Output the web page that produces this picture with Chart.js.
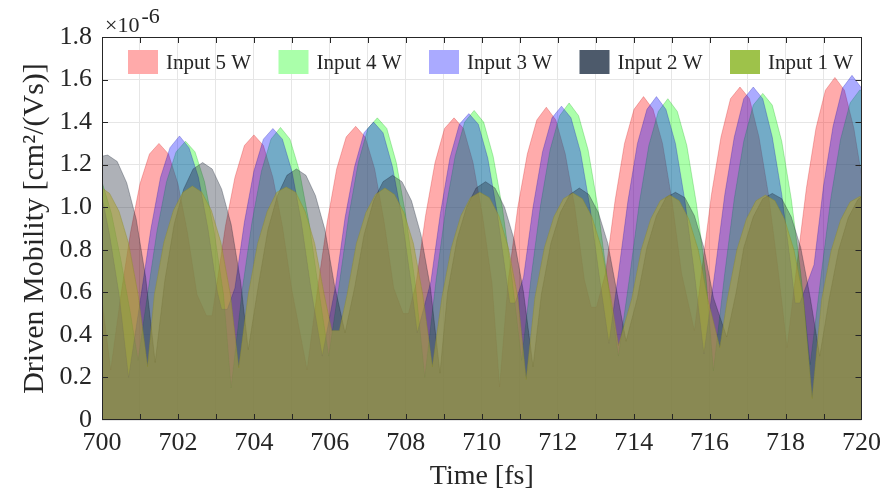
<!DOCTYPE html>
<html>
<head>
<meta charset="utf-8">
<script src="https://cdn.jsdelivr.net/npm/chart.js@4.4.1/dist/chart.umd.min.js"></script>
<style>
  html, body { margin: 0; padding: 0; background: #ffffff; }
  #wrap { width: 889px; height: 494px; }
</style>
</head>
<body>
<div id="wrap"><canvas id="c" width="889" height="494"></canvas></div>
<script>
// ---------- data (time [fs], mobility [x1e-6 cm^2/(Vs)]) ----------
const seriesNames = ['Input 5 W', 'Input 4 W', 'Input 3 W', 'Input 2 W', 'Input 1 W'];
const xRange = [700, 720];
const yRange = [0, 1.8];
const xTickStep = 1;
const yTickStep = 0.2;
const exponentText = ['\u00d710', '-6'];
const xTitle = 'Time [fs]';
const yTitle = 'Driven Mobility [cm\u00b2/(Vs)]';

const s5W = [[700.0,0.56],[700.23,0.235],[700.5,0.59],[700.75,0.88],[701.0,1.11],[701.25,1.25],[701.5,1.30],[701.75,1.25],[702.0,1.11],[702.25,0.88],[702.5,0.59],[702.75,0.49],[702.9,0.49],
 [703.0,0.61],[703.25,0.91],[703.5,1.14],[703.75,1.29],[704.0,1.34],[704.25,1.29],[704.5,1.14],[704.75,0.91],[705.0,0.61],[705.4,0.235],
 [705.68,0.62],[705.93,0.93],[706.18,1.18],[706.43,1.33],[706.68,1.38],[706.93,1.33],[707.18,1.18],[707.43,0.93],[707.68,0.62],[707.93,0.50],[708.07,0.50],
 [708.27,0.64],[708.52,0.96],[708.77,1.21],[709.02,1.37],[709.27,1.42],[709.52,1.37],[709.77,1.21],[710.02,0.96],[710.27,0.64],[710.47,0.155],
 [710.7,0.66],[710.95,1.00],[711.2,1.25],[711.45,1.41],[711.7,1.47],[711.95,1.41],[712.2,1.25],[712.45,1.00],[712.7,0.66],[712.88,0.53],[713.02,0.53],
 [713.26,0.69],[713.51,1.03],[713.76,1.30],[714.01,1.46],[714.26,1.52],[714.51,1.46],[714.76,1.30],[715.01,1.03],[715.26,0.69],[715.6,0.42],
 [715.8,0.71],[716.05,1.06],[716.3,1.33],[716.55,1.51],[716.8,1.565],[717.05,1.51],[717.3,1.33],[717.55,1.06],[717.8,0.71],[718.04,0.34],
 [718.3,0.73],[718.55,1.09],[718.8,1.37],[719.05,1.55],[719.3,1.61],[719.55,1.55],[719.8,1.37],[720.0,1.15]];

const s4W = [[700.0,1.12],[700.25,0.97],[700.5,0.75],[700.75,0.50],[700.95,0.28],
 [701.2,0.59],[701.45,0.89],[701.7,1.12],[701.95,1.26],[702.2,1.31],[702.45,1.26],[702.7,1.12],[702.95,0.89],[703.2,0.59],[703.4,0.15],
 [703.7,0.62],[703.95,0.93],[704.2,1.17],[704.45,1.32],[704.7,1.375],[704.95,1.32],[705.2,1.17],[705.45,0.93],[705.7,0.62],[705.97,0.30],
 [706.25,0.64],[706.5,0.96],[706.75,1.21],[707.0,1.37],[707.25,1.42],[707.5,1.37],[707.75,1.21],[708.0,0.96],[708.25,0.64],[708.5,0.20],
 [708.8,0.66],[709.05,0.99],[709.3,1.24],[709.55,1.40],[709.8,1.455],[710.05,1.40],[710.3,1.24],[710.55,0.99],[710.8,0.66],[711.05,0.28],
 [711.3,0.67],[711.55,1.01],[711.8,1.27],[712.05,1.43],[712.3,1.49],[712.55,1.43],[712.8,1.27],[713.05,1.01],[713.3,0.67],[713.6,0.30],
 [713.9,0.68],[714.15,1.02],[714.4,1.29],[714.65,1.45],[714.9,1.51],[715.15,1.45],[715.4,1.29],[715.65,1.02],[715.9,0.68],[716.1,0.23],
 [716.4,0.69],[716.65,1.04],[716.9,1.31],[717.15,1.48],[717.4,1.535],[717.65,1.48],[717.9,1.31],[718.15,1.04],[718.4,0.69],[718.65,0.26],
 [718.95,0.70],[719.2,1.05],[719.45,1.32],[719.7,1.49],[719.95,1.55],[720.0,1.55]];

const s3W = [[700.0,1.05],[700.2,0.87],[700.45,0.59],[700.7,0.20],
 [701.04,0.60],[701.29,0.90],[701.54,1.14],[701.79,1.28],[702.04,1.335],[702.29,1.28],[702.54,1.14],[702.79,0.90],[703.04,0.60],[703.15,0.52],[703.3,0.52],
 [703.5,0.62],[703.75,0.93],[704.0,1.17],[704.25,1.32],[704.5,1.37],[704.75,1.32],[705.0,1.17],[705.25,0.93],[705.5,0.62],[705.8,0.30],
 [706.15,0.63],[706.4,0.95],[706.65,1.19],[706.9,1.35],[707.15,1.40],[707.4,1.35],[707.65,1.19],[707.9,0.95],[708.15,0.63],[708.3,0.41],
 [708.66,0.65],[708.91,0.97],[709.16,1.23],[709.41,1.39],[709.66,1.44],[709.91,1.39],[710.16,1.23],[710.41,0.97],[710.66,0.65],[710.74,0.55],[710.88,0.55],
 [711.1,0.67],[711.35,1.00],[711.6,1.26],[711.85,1.42],[712.1,1.475],[712.35,1.42],[712.6,1.26],[712.85,1.00],[713.1,0.67],[713.35,0.36],
 [713.6,0.69],[713.85,1.03],[714.1,1.30],[714.35,1.46],[714.6,1.52],[714.85,1.46],[715.1,1.30],[715.35,1.03],[715.6,0.69],[715.85,0.31],
 [716.15,0.71],[716.4,1.06],[716.65,1.33],[716.9,1.51],[717.15,1.565],[717.4,1.51],[717.65,1.33],[717.9,1.06],[718.15,0.71],[718.25,0.55],[718.38,0.55],
 [718.75,0.73],[719.0,1.10],[719.25,1.38],[719.5,1.56],[719.75,1.62],[720.0,1.56]];

const s2W = [[700.0,1.24],[700.15,1.245],[700.4,1.215],[700.65,1.115],[700.9,0.945],[701.15,0.67],[701.4,0.27],
 [701.65,0.65],[701.9,0.92],[702.15,1.085],[702.4,1.18],[702.65,1.21],[702.9,1.18],[703.15,1.085],[703.4,0.92],[703.65,0.65],[703.85,0.33],
 [704.12,0.635],[704.37,0.895],[704.62,1.055],[704.87,1.15],[705.12,1.18],[705.37,1.15],[705.62,1.055],[705.87,0.895],[706.12,0.635],[706.4,0.41],
 [706.65,0.62],[706.9,0.87],[707.15,1.03],[707.4,1.12],[707.65,1.15],[707.9,1.12],[708.15,1.03],[708.4,0.87],[708.65,0.62],[708.9,0.22],
 [709.1,0.60],[709.35,0.85],[709.6,1.00],[709.85,1.09],[710.1,1.12],[710.35,1.09],[710.6,1.00],[710.85,0.85],[711.1,0.60],[711.35,0.25],
 [711.57,0.59],[711.82,0.83],[712.07,0.975],[712.32,1.06],[712.57,1.09],[712.82,1.06],[713.07,0.975],[713.32,0.83],[713.57,0.59],[713.8,0.37],
 [714.1,0.575],[714.35,0.81],[714.6,0.96],[714.85,1.045],[715.1,1.07],[715.35,1.045],[715.6,0.96],[715.85,0.81],[716.1,0.575],[716.45,0.39],
 [716.7,0.60],[716.9,0.81],[717.15,0.955],[717.4,1.04],[717.65,1.065],[717.9,1.04],[718.15,0.955],[718.4,0.81],[718.65,0.575],[718.9,0.30],
 [719.15,0.57],[719.4,0.80],[719.65,0.95],[719.9,1.035],[720.0,1.05]];

const s1W = [[700.0,1.09],[700.2,1.065],[700.45,0.98],[700.7,0.83],[700.95,0.59],[701.2,0.25],
 [701.38,0.59],[701.63,0.835],[701.88,0.985],[702.13,1.07],[702.38,1.10],[702.63,1.07],[702.88,0.985],[703.13,0.835],[703.38,0.59],[703.6,0.245],
 [703.85,0.59],[704.1,0.83],[704.35,0.98],[704.6,1.07],[704.85,1.095],[705.1,1.07],[705.35,0.98],[705.6,0.83],[705.85,0.59],[706.05,0.42],[706.25,0.42],
 [706.45,0.585],[706.7,0.83],[706.95,0.975],[707.2,1.06],[707.45,1.09],[707.7,1.06],[707.95,0.975],[708.2,0.83],[708.45,0.585],[708.7,0.25],
 [708.95,0.575],[709.2,0.81],[709.45,0.96],[709.7,1.045],[709.95,1.07],[710.2,1.045],[710.45,0.96],[710.7,0.81],[710.95,0.575],[711.17,0.19],
 [711.4,0.575],[711.65,0.81],[711.9,0.955],[712.15,1.04],[712.4,1.067],[712.65,1.04],[712.9,0.955],[713.15,0.81],[713.4,0.575],[713.6,0.35],
 [713.95,0.57],[714.2,0.80],[714.45,0.945],[714.7,1.03],[714.95,1.057],[715.2,1.03],[715.45,0.945],[715.7,0.80],[715.95,0.57],[716.27,0.34],
 [716.47,0.57],[716.72,0.80],[716.97,0.945],[717.22,1.03],[717.47,1.057],[717.72,1.03],[717.97,0.945],[718.22,0.80],[718.47,0.57],[718.7,0.10],
 [718.95,0.565],[719.2,0.795],[719.45,0.94],[719.7,1.025],[719.95,1.05],[720.0,1.05]];

const seriesData = [s5W, s4W, s3W, s2W, s1W];

// ---------- styles ----------
const FONT = '"Liberation Serif", "Times New Roman", serif';
const INK = '#262626';
const fills   = ['rgba(255,0,0,0.33)', 'rgba(0,255,0,0.33)', 'rgba(0,0,255,0.33)', 'rgba(30,40,55,0.36)', 'rgba(174,163,56,0.60)'];
const edges   = ['rgba(200,0,0,0.25)', 'rgba(0,160,0,0.25)', 'rgba(0,0,170,0.25)', 'rgba(20,30,45,0.30)', 'rgba(140,140,40,0.40)'];
const swatch  = ['#ffaaaa', '#aaffaa', '#aaaaff', '#4d5a6b', '#9ec24a'];

Chart.defaults.font.family = FONT;
Chart.defaults.color = INK;

const datasets = seriesNames.map((name, i) => ({
  label: name,
  data: seriesData[i].map(p => ({ x: p[0], y: p[1] })),
  backgroundColor: fills[i],
  borderColor: edges[i],
  borderWidth: 1,
  fill: 'origin',
  pointRadius: 0,
  pointHoverRadius: 0,
  tension: 0,
  order: 5 - i
}));

// frame + inward ticks (positions from the chart's own scales)
const framePlugin = {
  id: 'frameTicks',
  afterDatasetsDraw(chart) {
    const { ctx, chartArea: a, scales: { x, y } } = chart;
    ctx.save();
    ctx.strokeStyle = INK;
    ctx.lineWidth = 1;
    const L = 6;
    ctx.beginPath();
    for (let t = xRange[0] + xTickStep; t < xRange[1]; t += xTickStep) {
      const px = Math.round(x.getPixelForValue(t)) + 0.5;
      ctx.moveTo(px, a.bottom); ctx.lineTo(px, a.bottom - L);
      ctx.moveTo(px, a.top); ctx.lineTo(px, a.top + L);
    }
    for (let k = 1; k < Math.round((yRange[1] - yRange[0]) / yTickStep); k++) {
      const py = Math.round(y.getPixelForValue(yRange[0] + k * yTickStep)) + 0.5;
      ctx.moveTo(a.left, py); ctx.lineTo(a.left + L, py);
      ctx.moveTo(a.right, py); ctx.lineTo(a.right - L, py);
    }
    ctx.stroke();
    ctx.strokeRect(Math.round(a.left) + 0.5, Math.round(a.top) + 0.5, Math.round(a.right - a.left) - 1, Math.round(a.bottom - a.top) - 1);
    ctx.restore();
  }
};

// legend inside the axes + exponent label
const overlayPlugin = {
  id: 'overlay',
  afterDraw(chart) {
    const { ctx, chartArea: a } = chart;
    ctx.save();
    ctx.font = '21px ' + FONT;
    ctx.textBaseline = 'middle';
    ctx.textAlign = 'left';
    seriesNames.forEach((name, i) => {
      const bx = a.left + 26 + i * 150.5;
      const by = a.top + 13;
      ctx.fillStyle = swatch[i];
      ctx.fillRect(bx, by, 30, 24);
      ctx.fillStyle = INK;
      ctx.fillText(name, bx + 38, by + 13);
    });
    // exponent
    ctx.textBaseline = 'alphabetic';
    ctx.font = '22px ' + FONT;
    const ex = a.left + 3;
    ctx.fillText(exponentText[0], ex, a.top - 5);
    const w = ctx.measureText(exponentText[0]).width;
    ctx.font = '22px ' + FONT;
    ctx.fillText(exponentText[1], ex + w + 2, a.top - 14);
    ctx.restore();
  }
};

new Chart(document.getElementById('c'), {
  type: 'line',
  data: { datasets },
  options: {
    responsive: false,
    devicePixelRatio: 1,
    animation: false,
    events: [],
    layout: { padding: { top: 37, right: 21, left: 0, bottom: 0 } },
    plugins: { legend: { display: false }, tooltip: { enabled: false } },
    scales: {
      x: {
        type: 'linear',
        min: xRange[0], max: xRange[1],
        afterFit(s) { s.height = 74; },
        border: { display: false },
        grid: { color: '#e6e6e6', lineWidth: 1, drawTicks: false },
        ticks: {
          stepSize: xTickStep, autoSkip: false, maxRotation: 0, padding: 8,
          font: { size: 26 }, color: INK,
          callback: v => (Math.round(v) % 2 === 0 ? String(Math.round(v)) : '')
        },
        title: { display: true, text: xTitle, font: { size: 28 }, color: INK, padding: { top: 0, bottom: 1 } }
      },
      y: {
        min: yRange[0], max: yRange[1],
        afterFit(s) { s.width = 102; },
        border: { display: false },
        grid: { color: '#e6e6e6', lineWidth: 1, drawTicks: false },
        ticks: {
          stepSize: yTickStep, padding: 10, font: { size: 26 }, color: INK,
          callback: v => (Math.abs(v) < 1e-9 ? '0' : v.toFixed(1))
        },
        title: { display: true, text: yTitle, font: { size: 30 }, color: INK, padding: { top: 17, bottom: 0 } }
      }
    }
  },
  plugins: [framePlugin, overlayPlugin]
});
</script>
</body>
</html>
